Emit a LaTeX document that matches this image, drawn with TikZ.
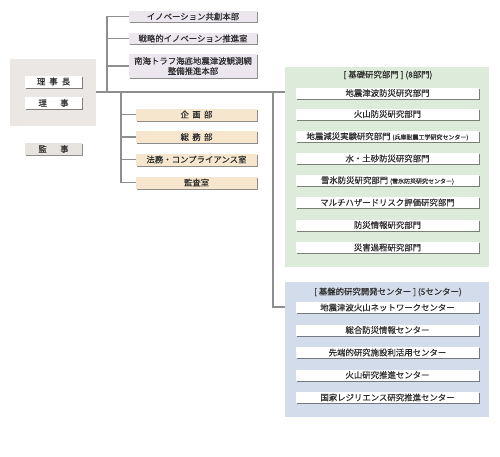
\documentclass[tikz,border=0pt]{standalone}
\usepackage{fontspec}
\setmainfont[FakeBold=0.3]{Noto Sans CJK JP}
\usetikzlibrary{shadows}
\definecolor{linegray}{HTML}{8E8E8E}
\definecolor{textgray}{HTML}{2E2E2E}
\definecolor{graybg}{HTML}{EAE7E4}
\definecolor{kanjibg}{HTML}{E7E3DF}
\definecolor{lavbg}{HTML}{ECE7EE}
\definecolor{tanbg}{HTML}{F6E6CD}
\definecolor{greenbg}{HTML}{DDEBDA}
\definecolor{bluebg}{HTML}{D3DCEB}
\begin{document}
\begin{tikzpicture}[x=0.75pt,y=-0.75pt,
  font=\fontsize{6.3}{7.6}\selectfont, text=textgray,
  box/.style={inner sep=0pt, align=center, minimum height=8.25pt,
    drop shadow={shadow xshift=1.1pt, shadow yshift=-1.1pt, fill=black, opacity=0.45}},
  panel/.style={inner sep=0pt, anchor=north west},
  link/.style={draw=linegray, line width=0.8pt}]
\useasboundingbox (0,0) rectangle (500,457);
% panels
\node[panel, fill=graybg, minimum width=64.5pt, minimum height=50.25pt] (exec) at (10,59) {};
\node[panel, fill=greenbg, minimum width=153pt, minimum height=150pt] (gpanel) at (285,67) {};
\node[panel, fill=bluebg, minimum width=153pt, minimum height=101.25pt] (bpanel) at (285,282) {};
% executives
\node[box, fill=white, minimum width=42.75pt, minimum height=9pt] (chief) at (53.5,81.5) {理\hspace{3pt}事\hspace{3pt}長};
\node[box, fill=white, minimum width=42.75pt, minimum height=9pt] (director) at (53.5,103) {理\hspace{10pt}事};
\node[box, fill=kanjibg, minimum width=42.75pt, minimum height=9pt] (auditor) at (53.5,149) {監\hspace{10pt}事};
% top boxes
\node[box, fill=lavbg, minimum width=96pt] (t1) at (193,16.5) {イノベーション共創本部};
\node[box, fill=lavbg, minimum width=96pt] (t2) at (193,38.5) {戦略的イノベーション推進室};
\node[box, fill=lavbg, minimum width=96pt, minimum height=18pt] (t3) at (193,66) {南海トラフ海底地震津波観測網\\整備推進本部};
% tan boxes
\node[box, fill=tanbg, minimum width=90.75pt, minimum height=9pt] (a1) at (196.5,114.5) {企\hspace{2.5pt}画\hspace{2.5pt}部};
\node[box, fill=tanbg, minimum width=90.75pt, minimum height=9pt] (a2) at (196.5,137) {総\hspace{2.5pt}務\hspace{2.5pt}部};
\node[box, fill=tanbg, minimum width=90.75pt, minimum height=9pt] (a3) at (196.5,159.5) {法務・コンプライアンス室};
\node[box, fill=tanbg, minimum width=90.75pt, minimum height=9pt] (a4) at (196.5,182.5) {監査室};
% green panel
\node (gtitle) at (388,75) {[ 基礎研究部門 ] (8部門)};
\node[box, fill=white, minimum width=137.25pt] (g1) at (387.5,93) {地震津波防災研究部門};
\node[box, fill=white, minimum width=137.25pt] (g2) at (387.5,114) {火山防災研究部門};
\node[box, fill=white, minimum width=137.25pt] (g3) at (387.5,136.5) {地震減災実験研究部門 {\fontsize{4.5}{5}\selectfont (兵庫耐震工学研究センター)}};
\node[box, fill=white, minimum width=137.25pt] (g4) at (387.5,158.5) {水・土砂防災研究部門};
\node[box, fill=white, minimum width=137.25pt] (g5) at (387.5,180.5) {雪氷防災研究部門 {\fontsize{4.5}{5}\selectfont (雪氷防災研究センター)}};
\node[box, fill=white, minimum width=137.25pt] (g6) at (387.5,202.5) {マルチハザードリスク評価研究部門};
\node[box, fill=white, minimum width=137.25pt] (g7) at (387.5,225) {防災情報研究部門};
\node[box, fill=white, minimum width=137.25pt] (g8) at (387.5,247.5) {災害過程研究部門};
% blue panel
\node (btitle) at (388,292) {[ 基盤的研究開発センター ] (5センター)};
\node[box, fill=white, minimum width=137.25pt] (b1) at (387.5,307.5) {地震津波火山ネットワークセンター};
\node[box, fill=white, minimum width=137.25pt] (b2) at (387.5,330) {総合防災情報センター};
\node[box, fill=white, minimum width=137.25pt] (b3) at (387.5,352.5) {先端的研究施設利活用センター};
\node[box, fill=white, minimum width=137.25pt] (b4) at (387.5,375) {火山研究推進センター};
\node[box, fill=white, minimum width=137.25pt] (b5) at (387.5,397.5) {国家レジリエンス研究推進センター};
% connectors
\coordinate (j0) at (96,92);
\coordinate (j1) at (107,92);
\coordinate (j2) at (121,92);
\coordinate (j3) at (273,92);
\coordinate (bj) at (285,307);
\draw[link] (j0) -- (gpanel.west |- j0);
\draw[link] (j1) |- (t1.west);
\draw[link] (j1) |- (t2.west);
\draw[link] (j1) |- (t3.west);
\draw[link] (j2) |- (a1.west);
\draw[link] (j2) |- (a2.west);
\draw[link] (j2) |- (a3.west);
\draw[link] (j2) |- (a4.west);
\draw[link] (j3) |- (bj);
\end{tikzpicture}
\end{document}
